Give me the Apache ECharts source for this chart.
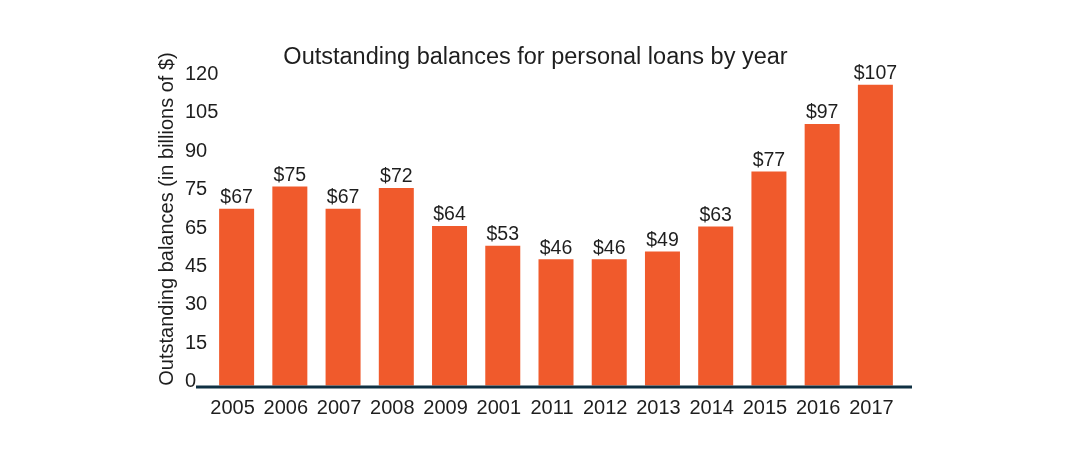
<!DOCTYPE html>
<html>
<head>
<meta charset="utf-8">
<script src="https://cdn.jsdelivr.net/npm/echarts@6/dist/echarts.min.js"></script>
<style>
html,body{margin:0;padding:0;background:#fff;}
#chart{width:1071px;height:458px;}
</style>
</head>
<body>
<div id="chart"></div>
<script>
const categories = ['2005','2006','2007','2008','2009','2001','2011','2012','2013','2014','2015','2016','2017'];
const barValues = [69.1, 77.8, 69.1, 77.2, 62.4, 54.6, 49.4, 49.4, 52.4, 62.2, 83.7, 102.2, 117.6];
const barLabels = ['$67','$75','$67','$72','$64','$53','$46','$46','$49','$63','$77','$97','$107'];
const yTickLabels = ['0','15','30','45','65','75','90','105','120'];
const titleText = 'Outstanding balances for personal loans by year';
const yAxisTitle = 'Outstanding balances (in billions of $)';

const FONT = '"Liberation Sans", Arial, sans-serif';
const chart = echarts.init(document.getElementById('chart'));
chart.setOption({
  animation: false,
  backgroundColor: '#ffffff',
  title: {
    text: titleText,
    left: 'center',
    top: 41,
    textStyle: { fontFamily: FONT, fontSize: 23.5, fontWeight: 'normal', color: '#1e1e1e' }
  },
  grid: { left: 210, right: 169, top: 78.6, bottom: 72.5, containLabel: false },
  xAxis: {
    type: 'category',
    data: categories,
    axisLine: { show: false },
    axisTick: { show: false },
    axisLabel: { interval: 0, fontFamily: FONT, fontSize: 20, color: '#1e1e1e', margin: 13, padding: [0, 8, 0, 0] }
  },
  yAxis: {
    type: 'value',
    min: 0, max: 120, interval: 15,
    splitLine: { show: false },
    axisLine: { show: false },
    axisTick: { show: false },
    axisLabel: {
      fontFamily: FONT, fontSize: 20, color: '#1e1e1e',
      align: 'left', margin: 25,
      verticalAlign: 'bottom',
      lineHeight: 8,
      formatter: function (v) { return yTickLabels[Math.round(v / 15)]; }
    }
  },
  graphic: [
    {
      type: 'line',
      shape: { x1: 196, y1: 387, x2: 912, y2: 387 },
      style: { stroke: '#0f3042', lineWidth: 3 },
      z: 10
    },
    {
      type: 'text',
      x: 167, y: 219,
      rotation: Math.PI / 2,
      style: {
        text: yAxisTitle,
        font: '20px ' + FONT,
        fill: '#1e1e1e',
        align: 'center',
        verticalAlign: 'middle'
      }
    }
  ],
  series: [{
    type: 'bar',
    data: barValues,
    barWidth: 35,
    itemStyle: { color: '#f05a2c' },
    label: {
      show: true,
      position: 'top',
      distance: 1,
      fontFamily: FONT, fontSize: 19.5, color: '#1e1e1e',
      formatter: function (p) { return barLabels[p.dataIndex]; }
    }
  }]
});
</script>
</body>
</html>
